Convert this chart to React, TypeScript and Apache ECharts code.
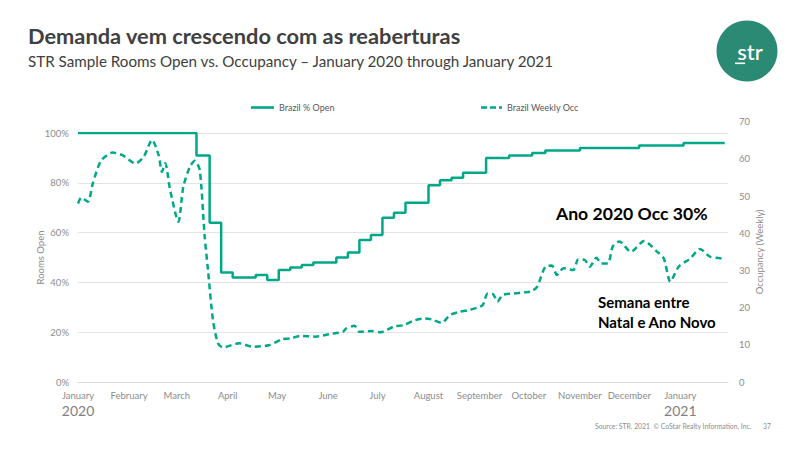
import React, { useEffect, useRef } from 'react';
import * as echarts from 'echarts';

const GREEN = '#00A887';
const FONT = 'Lato, "Open Sans", sans-serif';

// Brazil % Open: day (offset from 1 Jan 2020) where a new weekly value starts, and that value (%)
const openDays = [0, 72, 80, 87, 94, 108, 115, 122, 129, 136, 143, 157, 164, 171, 178, 185, 192, 199, 213, 220, 227, 234, 248, 262, 276, 284, 305, 341, 368, 393];
const openValues = [100, 91, 64, 44, 42, 43, 41, 45, 46, 47, 48, 50, 52, 57, 59, 66, 68, 72, 79, 81, 82, 84, 90, 91, 92, 93, 94, 95, 96, 96];

// Brazil Weekly Occ: day (offset from 1 Jan 2020) and occupancy
const occDays = [0, 2, 6, 9, 14, 21, 27, 35, 40, 45, 49, 51, 53, 56, 61, 64, 68, 71, 74, 77, 79, 82, 85, 88, 98, 106, 116, 124, 129, 135, 144, 153, 161, 163, 168, 171, 178, 184, 192, 198, 204, 211, 215, 221, 226, 232, 238, 244, 246, 249, 252, 255, 258, 265, 271, 275, 279, 284, 288, 291, 295, 301, 304, 308, 311, 315, 318, 322, 325, 329, 336, 344, 352, 356, 360, 365, 372, 378, 384, 392];
const occValues = [48.0, 49.6, 48.5, 53.4, 59.5, 61.7, 61.0, 58.8, 60.6, 65.1, 61.0, 56.5, 58.8, 51.6, 43.1, 52.5, 57.9, 59.5, 57.0, 39.0, 30.1, 16.7, 10.5, 9.3, 10.4, 9.5, 9.9, 11.5, 11.7, 12.4, 12.2, 12.9, 13.5, 14.4, 15.1, 13.5, 13.7, 13.4, 14.9, 15.3, 16.5, 17.1, 16.8, 15.9, 18.0, 18.9, 19.4, 20.2, 20.7, 23.8, 23.7, 21.6, 23.4, 23.8, 24.1, 24.3, 25.6, 31.0, 31.3, 28.8, 30.6, 30.1, 33.0, 32.8, 31.0, 33.4, 31.9, 31.9, 36.5, 37.8, 35.0, 37.9, 35.0, 33.2, 27.0, 31.0, 33.2, 35.8, 33.7, 33.2];

const monthNames = ['January', 'February', 'March', 'April', 'May', 'June', 'July', 'August', 'September', 'October', 'November', 'December'];
const leftTicks = { min: 0, max: 100, interval: 20 };
const rightTicks = { min: 0, max: 70, interval: 10 };
const AXIS_DAYS = 395;

function dayLabel(d: number): string {
  const dt = new Date(Date.UTC(2020, 0, 1 + d));
  const m = String(dt.getUTCMonth() + 1).padStart(2, '0');
  const dd = String(dt.getUTCDate()).padStart(2, '0');
  return `${dt.getUTCFullYear()}-${m}-${dd}`;
}

const categories: string[] = [];
for (let i = 0; i <= AXIS_DAYS; i++) categories.push(dayLabel(i));

export default function App() {
  const ref = useRef<HTMLDivElement>(null);
  useEffect(() => {
    document.body.style.margin = '0';
    const chart = echarts.init(ref.current!, null, { renderer: 'svg' });
    const labelColor = '#8c8c8c';
    const xBase = {
      type: 'category' as const,
      data: categories,
      boundaryGap: false,
    };
    const legendText = { fontSize: 9, color: '#595959', fontFamily: FONT };
    chart.setOption({
      animation: false,
      backgroundColor: '#ffffff',
      textStyle: { fontFamily: FONT },
      legend: [
        {
          data: [{ name: 'Brazil % Open', icon: 'path://M0,0H23V2.6H0Z' }],
          left: 246, top: 98, itemWidth: 23, itemHeight: 2.6, textStyle: legendText,
        },
        {
          data: [{ name: 'Brazil Weekly Occ', icon: 'path://M0,0H6V2.6H0ZM9,0H15V2.6H9ZM18,0H21V2.6H18Z' }],
          left: 476, top: 98, itemWidth: 21, itemHeight: 2.6, textStyle: legendText,
        },
      ],
      grid: [
        { left: 78, right: 72, top: 133, bottom: 68 },
        { left: 78, right: 72, top: 121.7, bottom: 68 },
      ],
      xAxis: [
        {
          ...xBase, gridIndex: 0,
          axisLine: { show: true, lineStyle: { color: '#d9d9d9', width: 1 } },
          axisTick: { show: false },
          splitLine: { show: false },
          axisLabel: {
            interval: (_i: number, v: string) => v.endsWith('-01'),
            formatter: (v: string) => {
              const m = parseInt(v.slice(5, 7), 10) - 1;
              return m === 0 ? `${monthNames[m]}\n{y|${v.slice(0, 4)}}` : monthNames[m];
            },
            color: labelColor, fontSize: 9.5, fontFamily: FONT, margin: 7, lineHeight: 13,
            rich: { y: { fontSize: 14, color: '#808080', lineHeight: 16, fontFamily: FONT } },
          },
        },
        { ...xBase, gridIndex: 1, show: false },
      ],
      yAxis: [
        {
          type: 'value', gridIndex: 0, ...leftTicks,
          name: 'Rooms Open', nameLocation: 'middle', nameGap: 33, nameRotate: 90, nameMoveOverlap: false,
          nameTextStyle: { color: labelColor, fontSize: 9.5, fontFamily: FONT },
          axisLine: { show: false }, axisTick: { show: false },
          axisLabel: { formatter: '{value}%', color: labelColor, fontSize: 9.5, margin: 9, fontFamily: FONT },
          splitLine: { show: true, lineStyle: { color: '#e3e3e3', width: 1 } },
        },
        {
          type: 'value', gridIndex: 1, position: 'right', ...rightTicks,
          name: 'Occupancy (Weekly)', nameLocation: 'middle', nameGap: 26, nameRotate: 90, nameMoveOverlap: false,
          nameTextStyle: { color: labelColor, fontSize: 9.5, fontFamily: FONT },
          axisLine: { show: false }, axisTick: { show: false },
          axisLabel: { color: labelColor, fontSize: 9.5, margin: 11, fontFamily: FONT },
          splitLine: { show: false },
        },
      ],
      series: [
        {
          name: 'Brazil % Open', type: 'line', xAxisIndex: 0, yAxisIndex: 0,
          step: 'end', symbol: 'none', showSymbol: false,
          data: openDays.map((d, i) => [categories[d], openValues[i]]),
          lineStyle: { color: GREEN, width: 2.5 },
          itemStyle: { color: GREEN },
        },
        {
          name: 'Brazil Weekly Occ', type: 'line', xAxisIndex: 1, yAxisIndex: 1,
          smooth: 0.25, symbol: 'none', showSymbol: false,
          data: occDays.map((d, i) => [categories[d], occValues[i]]),
          lineStyle: { color: GREEN, width: 2.5, type: [6, 4] },
          itemStyle: { color: GREEN },
        },
      ],
      graphic: [
        {
          type: 'text', left: 28, top: 24,
          style: { text: 'Demanda vem crescendo com as reaberturas', fill: '#404040', font: `bold 21.8px ${FONT}` },
        },
        {
          type: 'text', left: 28, top: 53,
          style: { text: 'STR Sample Rooms Open vs. Occupancy \u2013 January 2020 through January 2021', fill: '#404040', font: `15.2px ${FONT}` },
        },
        { type: 'circle', shape: { cx: 747, cy: 51, r: 30.5 }, style: { fill: '#2b8a73' } },
        {
          type: 'text', x: 750, y: 51,
          style: { text: 'str', fill: '#ffffff', font: `500 22px ${FONT}`, align: 'center', verticalAlign: 'middle' },
        },
        { type: 'rect', shape: { x: 735, y: 62.5, width: 10, height: 1.6 }, style: { fill: '#ffffff' } },
        {
          type: 'text', x: 556, y: 213,
          style: { text: 'Ano 2020 Occ 30%', fill: '#000000', font: `bold 17.6px ${FONT}`, verticalAlign: 'middle' },
        },
        {
          type: 'text', x: 598, y: 302,
          style: { text: 'Semana entre', fill: '#000000', font: `bold 15px ${FONT}`, verticalAlign: 'middle' },
        },
        {
          type: 'text', x: 598, y: 322,
          style: { text: 'Natal e Ano Novo', fill: '#000000', font: `bold 15px ${FONT}`, verticalAlign: 'middle' },
        },
        {
          type: 'text', x: 595, y: 426,
          style: { text: 'Source: STR. 2021  \u00a9 CoStar Realty Information, Inc.', fill: '#8c8c8c', font: `6.8px ${FONT}`, verticalAlign: 'middle' },
        },
        {
          type: 'text', x: 763, y: 426,
          style: { text: '37', fill: '#8c8c8c', font: `6.8px ${FONT}`, verticalAlign: 'middle' },
        },
      ],
    });
    return () => chart.dispose();
  }, []);
  return <div ref={ref} style={{ width: 800, height: 450 }} />;
}
